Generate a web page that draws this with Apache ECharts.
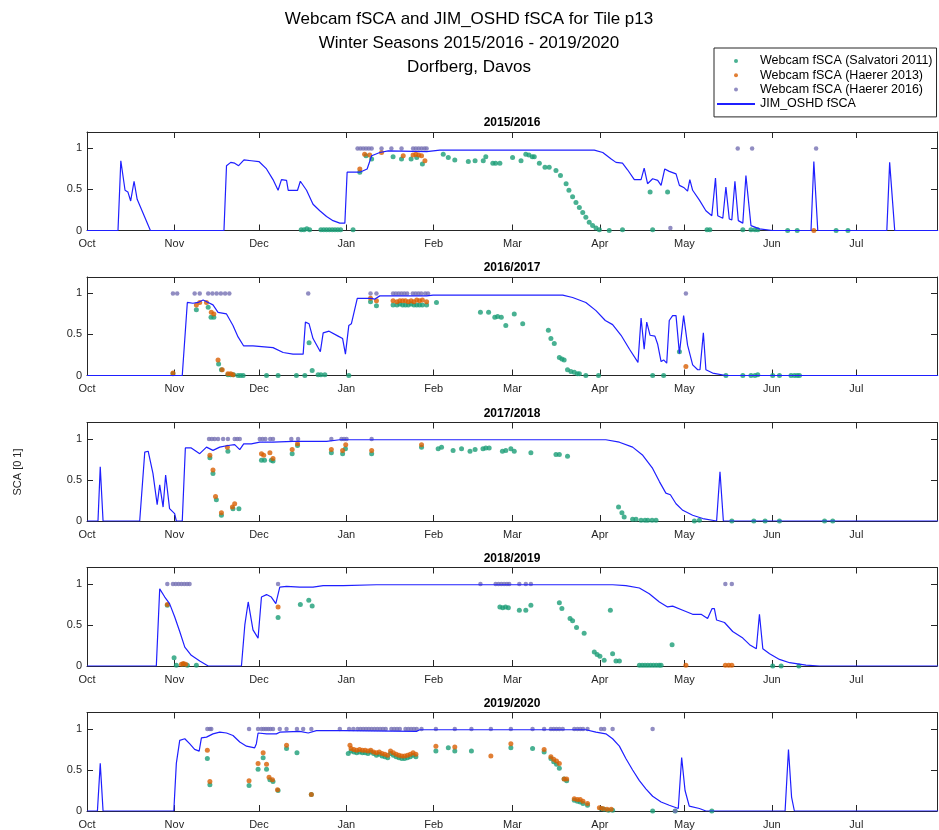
<!DOCTYPE html>
<html><head><meta charset="utf-8">
<script src="https://cdn.jsdelivr.net/npm/echarts@6/dist/echarts.min.js"></script>
<style>html,body{margin:0;padding:0;background:#fff}#c{width:939px;height:830px}</style>
</head><body><div id="c"></div>
<script>
// ---------- labels / ticks ----------
const seasons = ['2015/2016','2016/2017','2017/2018','2018/2019','2019/2020'];
const monthTicks = [0,31,61,92,123,151,182,212,243,273];   // day of season (Oct 1 = 0)
const monthLabels = ['Oct','Nov','Dec','Jan','Feb','Mar','Apr','May','Jun','Jul'];
const yTicks = [0,0.5,1];
const yTickLabels = ['0','0.5','1'];
const seriesNames = ['Webcam fSCA (Salvatori 2011)','Webcam fSCA (Haerer 2013)','Webcam fSCA (Haerer 2016)','JIM_OSHD fSCA'];
const titleLines = ['Webcam fSCA and JIM_OSHD fSCA for Tile p13','Winter Seasons 2015/2016 - 2019/2020','Dorfberg, Davos'];
const yLabel = 'SCA [0 1]';

// ---------- 2015/2016 ----------
const jim_1516 = [[0,0],[11,0],[12,0.85],[13.5,0.49],[14.5,0.47],[15.5,0.36],[16.7,0.6],[17.8,0.38],[22.5,0],[48.6,0],[49.5,0.79],[51,0.83],[52.4,0.82],[53.8,0.79],[55.7,0.86],[58.3,0.85],[61,0.84],[63.7,0.75],[66,0.62],[67.8,0.49],[69,0.62],[70.8,0.61],[71.4,0.49],[74.7,0.49],[75.7,0.6],[77.9,0.49],[80.2,0.32],[82.6,0.24],[85,0.17],[87.3,0.12],[89.7,0.09],[91.5,0.09],[92.3,0.71],[96.8,0.71],[99.4,0.75],[101,0.91],[103.9,0.95],[106.9,0.97],[120.5,0.96],[125.2,0.98],[180,0.98],[183,0.95],[186,0.87],[187.7,0.83],[190,0.82],[191.8,0.74],[194.2,0.62],[196.6,0.62],[197.7,0.76],[198.9,0.57],[200.7,0.63],[202.5,0.61],[203.7,0.55],[205,0.75],[206.6,0.72],[209,0.69],[210.2,0.55],[211.9,0.52],[213.1,0.48],[213.9,0.62],[214.9,0.49],[217.3,0.37],[219.6,0.24],[221.7,0.18],[223,0.64],[223.8,0.18],[225.6,0.15],[226.7,0.53],[227.9,0.14],[228.8,0.13],[229.9,0.6],[231.1,0.12],[232.7,0.09],[233.8,0.67],[235.6,0.06],[238.6,0.02],[243.3,0],[256.9,0],[257.9,0.84],[259.3,0],[283.8,0],[284.8,0.83],[286.6,0],[302,0]];
const salv_1516 = [[76,0.01],[77,0.01],[78,0.02],[79,0.01],[83,0.01],[84,0.01],[85,0.01],[86,0.01],[87,0.01],[88,0.01],[89,0.01],[90,0.01],[94.4,0.01],[96.8,0.71],[99,0.91],[101,0.87],[108.6,0.9],[111.6,0.87],[115,0.87],[117,0.89],[119,0.81],[126.4,0.93],[128.2,0.89],[130.5,0.86],[135.3,0.84],[137.7,0.85],[140.6,0.85],[141.5,0.9],[144,0.82],[145,0.82],[146.5,0.82],[151,0.89],[154,0.85],[155.7,0.93],[156.8,0.92],[158,0.9],[158.7,0.9],[160.5,0.82],[162.5,0.77],[164,0.77],[166.4,0.73],[168,0.67],[170,0.57],[171,0.49],[172.3,0.41],[173.5,0.34],[174.7,0.28],[175.9,0.22],[177,0.16],[178.2,0.1],[179.4,0.06],[180.6,0.03],[181.8,0.01],[185.3,0],[190,0.01],[199.8,0.47],[200.7,0.01],[206,0.47],[220,0.01],[221,0.01],[232.7,0.01],[235.6,0.01],[237,0.01],[238,0.01],[248.6,0],[252,0],[265.8,0],[270,0]];
const h13_1516 = [[96.8,0.75],[98.5,0.93],[100.3,0.92],[104.5,0.95],[112.2,0.91],[115.7,0.92],[116.7,0.93],[117.7,0.92],[118.7,0.91],[119.9,0.85],[257.9,0]];
const h16_1516 = [[96,1],[97,1],[98,1],[99,1],[100,1],[101,1],[104.5,1],[108,1],[111.6,1],[115.7,1],[116.7,1],[117.7,1],[118.7,1],[119.7,1],[120.5,1],[207,0.03],[230.9,1],[236,1],[258.7,1]];

// ---------- 2016/2017 ----------
const jim_1617 = [[0,0],[33.8,0],[35.6,0.89],[37.6,0.88],[39.4,0.89],[41.2,0.92],[43,0.89],[44.7,0.86],[46.5,0.77],[49.5,0.75],[51.8,0.61],[53.6,0.47],[55.6,0.36],[58.9,0.36],[66,0.34],[69.6,0.28],[73.1,0.26],[76.7,0.26],[77.5,0.65],[78.8,0.63],[80.2,0.45],[82.8,0.29],[83.8,0.52],[85.9,0.54],[89.1,0.48],[90.7,0.45],[91.7,0.26],[92.9,0.61],[93.8,0.63],[95.9,0.94],[100.9,0.94],[102,0.93],[103.9,0.97],[120.5,0.97],[122.8,0.98],[168.8,0.98],[172.3,0.95],[177,0.89],[180.6,0.79],[183.9,0.67],[186.5,0.62],[189.5,0.49],[192.5,0.32],[195.5,0.16],[196.6,0.7],[197.7,0.32],[198.6,0.65],[199.8,0.49],[201.5,0.48],[202.5,0.38],[203.7,0.17],[204.6,0.19],[205.7,0.15],[206.6,0.67],[207.8,0.73],[209,0.73],[210.2,0.27],[210.7,0.25],[211.7,0.73],[213.1,0.37],[214.9,0.13],[216.7,0.07],[217.5,0.07],[218.7,0.52],[219.6,0.07],[222,0.03],[226.7,0],[302,0]];
const salv_1617 = [[30.5,0.02],[38.8,0.8],[43,0.83],[44,0.71],[45,0.71],[46.7,0.14],[47.7,0.07],[50,0.01],[51,0.01],[52,0.01],[53.6,0],[54.5,0],[55.4,0],[63.7,0],[67.8,0],[74.3,0],[77.3,0],[78.8,0.4],[79.9,0.06],[82,0.01],[83,0.01],[84.4,0.01],[92.9,0],[100.6,0.9],[102.7,0.85],[108.6,0.86],[110,0.86],[111,0.87],[112,0.86],[113,0.86],[114,0.86],[115,0.87],[116,0.86],[117,0.86],[118,0.86],[119,0.86],[120.5,0.86],[124,0.89],[139.6,0.77],[142.5,0.77],[144.7,0.71],[145.7,0.72],[147,0.71],[148.6,0.61],[151.6,0.75],[154.6,0.63],[163.7,0.55],[164.6,0.45],[165.8,0.39],[167.6,0.22],[168.5,0.2],[169.3,0.19],[170.5,0.07],[171.7,0.05],[172.9,0.04],[174,0.02],[174.7,0.02],[177,0],[181.5,0],[200.7,0],[204.6,0],[210.2,0.29],[226.7,0],[232.7,0],[235.6,0],[237,0],[238,0.01],[243.3,0],[245.7,0],[249.8,0],[251,0],[252,0],[252.8,0]];
const h13_1617 = [[30.5,0.03],[38.8,0.86],[40,0.89],[42.4,0.89],[44.1,0.77],[45,0.75],[46.5,0.19],[48,0.07],[50,0.02],[51,0.02],[51.8,0.01],[100.6,0.94],[102.7,0.91],[108.6,0.91],[110,0.9],[111,0.91],[112,0.91],[113,0.91],[114,0.9],[115,0.91],[116,0.9],[117,0.92],[118,0.91],[119,0.92],[120.5,0.9],[212.5,0.11]];
const h16_1617 = [[30.5,1],[32,1],[38.2,1],[40,1],[43,1],[44.5,1],[46,1],[47.5,1],[49,1],[50.5,1],[78.5,1],[100.6,1],[102.7,1],[108.6,1],[109.6,1],[110.6,1],[111.6,1],[112.6,1],[113.6,1],[115.6,1],[116.6,1],[117.6,1],[118.6,1],[120,1],[121,1],[212.5,1]];

// ---------- 2017/2018 ----------
const jim_1718 = [[0,0],[3.9,0],[4.7,0.66],[5.7,0],[18.7,0],[20.5,0.84],[21.7,0.85],[23.4,0.58],[24.9,0.2],[25.8,0.44],[27,0.17],[27.9,0.56],[29.3,0.15],[31.1,0.09],[31.7,0],[33.8,0],[34.9,0.89],[37,0.89],[40,0.82],[42.4,0.9],[44.7,0.86],[47.1,0.9],[50,0.92],[52.4,0.93],[54.2,0.87],[55.6,0.94],[58.3,0.94],[61.3,0.96],[66,0.96],[73.1,0.97],[85,0.97],[89.7,0.99],[184.1,0.99],[188.9,0.96],[193.6,0.9],[197.2,0.8],[200.7,0.64],[203.1,0.48],[205.4,0.34],[207,0.32],[209,0.21],[211.4,0.13],[214.9,0.07],[218.5,0.03],[223.4,0],[224.6,0.6],[225.8,0],[302,0]];
const salv_1718 = [[43.6,0.77],[44.7,0.58],[45.9,0.26],[47.7,0.07],[50,0.85],[51.8,0.15],[53.9,0.15],[61.9,0.74],[63,0.74],[65.4,0.74],[66,0.73],[72.8,0.82],[74.7,0.92],[86.7,0.83],[90.7,0.82],[91.7,0.88],[101,0.82],[118.7,0.9],[124.6,0.88],[125.8,0.9],[129.9,0.86],[132.9,0.88],[135.9,0.85],[137.7,0.87],[140.5,0.88],[141.5,0.89],[142.7,0.89],[147.4,0.85],[148.6,0.86],[150.4,0.88],[151.6,0.85],[157.5,0.83],[166.4,0.81],[167.6,0.81],[170.5,0.79],[188.6,0.17],[189.8,0.1],[190.6,0.05],[193.6,0.02],[194.8,0.02],[196.6,0.01],[198,0.01],[199,0.01],[200.5,0.01],[201.9,0.01],[215.5,0],[217.3,0.01],[228.8,0],[236.6,0],[240.6,0],[245.7,0],[261.7,0],[264.6,0]];
const h13_1718 = [[43.6,0.8],[44.7,0.62],[45.6,0.3],[47.7,0.1],[49.8,0.9],[51.6,0.17],[52.4,0.21],[61.9,0.82],[62.7,0.8],[64.9,0.83],[66,0.76],[72.8,0.87],[74.7,0.94],[86.7,0.87],[90.7,0.86],[91.8,0.93],[101,0.86],[118.7,0.93]];
const h16_1718 = [[43.3,1],[44.3,1],[45.3,1],[46.5,1],[48.3,1],[50,1],[52.4,1],[53.3,1],[54.2,1],[61.3,1],[62.3,1],[63.3,1],[65,1],[66,1],[72.5,1],[74.9,1],[86.7,1],[90.3,1],[91.2,1],[92.1,1],[101,1]];

// ---------- 2018/2019 ----------
const jim_1819 = [[0,0],[24.6,0],[25.8,0.94],[27.6,0.84],[29.3,0.76],[31.1,0.6],[32.9,0.42],[34.7,0.23],[37,0.13],[40,0.06],[43,0],[54.8,0],[56,0.5],[57.2,0.78],[57.8,0.76],[58.9,0.44],[60.7,0.34],[61.9,0.84],[63.7,0.87],[65.4,0.84],[67,0.76],[68.4,0.96],[70.8,0.97],[75.5,0.96],[80.2,0.96],[83.8,0.98],[90.9,0.98],[102.7,0.99],[186.5,0.99],[191.2,0.98],[196,0.95],[199.5,0.88],[203.1,0.78],[206,0.72],[207.8,0.73],[211.4,0.68],[214.9,0.63],[217.9,0.63],[220.2,0.58],[221.8,0.7],[222.6,0.7],[223.4,0.56],[226.2,0.53],[229.1,0.42],[232.7,0.34],[235.1,0.26],[237.5,0.21],[238.6,0.63],[239.8,0.21],[242.2,0.15],[245.7,0.08],[249.3,0.04],[255.1,0.01],[259.9,0],[302,0]];
const salv_1819 = [[28.5,0.74],[30.9,0.1],[31.7,0.01],[34.1,0.02],[35.6,0.01],[38.8,0.01],[67.8,0.59],[75.7,0.75],[78.7,0.8],[79.9,0.73],[146.5,0.72],[147.5,0.71],[148.5,0.72],[149.5,0.71],[153.4,0.68],[155.7,0.68],[157.5,0.74],[167.6,0.77],[168.5,0.7],[171.4,0.58],[172.3,0.55],[173.7,0.47],[176.4,0.4],[180,0.17],[181,0.14],[182,0.12],[183.5,0.07],[185.7,0.68],[186.5,0.15],[187.7,0.06],[188.9,0.06],[196,0.01],[197,0.01],[198,0.01],[199,0.01],[200,0.01],[201,0.01],[202,0.01],[203,0.01],[203.7,0.01],[207.6,0.26],[243.3,0],[246.3,0],[252.6,0]];
const h13_1819 = [[28.5,0.75],[33.5,0.02],[34.2,0.03],[35,0.02],[67.8,0.72],[212.5,0.01],[226.5,0.01],[227.7,0.01],[228.8,0.01]];
const h16_1819 = [[28.5,1],[30.5,1],[31.5,1],[32.5,1],[33.5,1],[34.5,1],[35.5,1],[36.4,1],[67.8,1],[139.6,1],[145,1],[146,1],[147,1],[148,1],[149,1],[149.8,1],[153.4,1],[155.7,1],[157.5,1],[226.5,1],[228.8,1]];

// ---------- 2019/2020 ----------
const jim_1920 = [[0,0],[3.7,0],[4.7,0.58],[5.7,0],[30.8,0],[31.7,0.58],[32.9,0.86],[34.7,0.88],[36.4,0.82],[38.2,0.75],[39.8,0.73],[40.6,0.89],[42.4,0.9],[44.7,0.94],[47.1,0.96],[49.5,0.95],[51.8,0.92],[54.2,0.84],[56.6,0.79],[59.5,0.77],[60.1,0.82],[60.7,0.95],[63.7,0.94],[67.2,0.94],[68.4,0.96],[75.5,0.97],[78.5,0.95],[81.4,0.98],[90.9,0.98],[116.9,0.97],[118.1,0.99],[177,0.99],[180.6,0.96],[184.1,0.94],[186.5,0.88],[188.9,0.79],[191.2,0.64],[193.6,0.5],[196,0.37],[198.3,0.27],[200.7,0.18],[203.7,0.11],[206.6,0.07],[209.8,0.03],[211,0.65],[212.2,0.25],[213.7,0.06],[217.3,0.03],[219.6,0],[247.7,0],[248.9,0.75],[250,0.17],[251,0],[302,0]];
const salv_1920 = [[42.7,0.64],[43.6,0.32],[57.5,0.31],[60.7,0.51],[62.5,0.65],[63.7,0.51],[64.9,0.38],[66,0.36],[67.8,0.25],[70.8,0.76],[74.5,0.71],[79.6,0.2],[92.7,0.7],[93.7,0.73],[94.7,0.72],[95.7,0.71],[96.7,0.72],[97.7,0.71],[98.7,0.71],[99.7,0.7],[100.7,0.72],[101.7,0.7],[102.7,0.68],[103.7,0.69],[104.7,0.67],[105.7,0.66],[106.7,0.65],[107.7,0.7],[108.7,0.68],[109.7,0.66],[110.7,0.65],[111.7,0.64],[112.7,0.64],[113.7,0.65],[114.7,0.66],[115.7,0.68],[116.7,0.66],[123.8,0.73],[128.2,0.77],[130.5,0.73],[136.4,0.73],[150.4,0.77],[158.1,0.76],[162.2,0.72],[164.6,0.64],[165.6,0.6],[166.6,0.57],[167.6,0.52],[169.3,0.39],[170.2,0.37],[172.9,0.13],[174,0.12],[175,0.11],[176,0.09],[177.6,0.07],[182.4,0.03],[183.5,0.02],[185,0.01],[186.5,0.01],[200.7,0],[208.7,0],[221.7,0]];
const h13_1920 = [[42.7,0.74],[43.6,0.36],[57.5,0.37],[60.7,0.58],[62.5,0.71],[63.7,0.57],[64.6,0.41],[65.8,0.38],[67.6,0.26],[70.8,0.8],[79.6,0.2],[93.3,0.8],[93.7,0.76],[94.7,0.75],[95.7,0.74],[96.7,0.75],[97.7,0.74],[98.7,0.74],[99.7,0.73],[100.7,0.74],[101.7,0.72],[102.7,0.71],[103.7,0.72],[104.7,0.7],[105.7,0.69],[106.7,0.68],[107.7,0.73],[108.7,0.71],[109.7,0.69],[110.7,0.68],[111.7,0.67],[112.7,0.67],[113.7,0.68],[114.7,0.69],[115.7,0.71],[116.7,0.69],[123.8,0.79],[130.5,0.78],[143.3,0.67],[150.4,0.82],[162.2,0.75],[164.6,0.66],[165.6,0.63],[166.6,0.61],[167.6,0.58],[169.3,0.39],[170.2,0.39],[172.9,0.15],[174,0.14],[175,0.14],[176,0.12],[177.6,0.09],[181.8,0.04],[183,0.03],[184.5,0.02],[186,0.02]];
const h16_1920 = [[42.7,1],[43.6,1],[44.1,1],[57.5,1],[60.7,1],[61.9,1],[62.7,1],[63.5,1],[64.3,1],[65.1,1],[66,1],[68.4,1],[70.8,1],[74.5,1],[76.7,1],[79.6,1],[89.7,1],[93,1],[94.5,1],[96,1],[97,1],[98,1],[99,1],[100,1],[101,1],[102,1],[103,1],[104,1],[105,1],[106,1],[108,1],[109,1],[110,1],[111,1],[113,1],[114,1],[115,1],[116,1],[117,1],[118.7,1],[123.8,1],[130.5,1],[136.4,1],[143.3,1],[150.4,1],[158.1,1],[162.2,1],[164.6,1],[165.6,1],[166.6,1],[167.6,1],[168.8,1],[172.9,1],[174,1],[175,1],[176,1],[177.6,1],[182.4,1],[183.5,1],[186.5,1],[200.7,1],[208.7,0]];

const jimAll = [jim_1516, jim_1617, jim_1718, jim_1819, jim_1920];
const salvAll = [salv_1516, salv_1617, salv_1718, salv_1819, salv_1920];
const h13All = [h13_1516, h13_1617, h13_1718, h13_1819, h13_1920];
const h16All = [h16_1516, h16_1617, h16_1718, h16_1819, h16_1920];

// ---------- layout / style ----------
const FONT = '"Liberation Sans", Arial, sans-serif';
const AX = '#262626';
const colors = ['#1b9e77', '#d95f02', '#7570b3', '#1f1fff'];
const gridTops = [132, 277, 422.5, 567.5, 712.5];
const gridH = 98.5, gridL = 87, gridR = 2;
const xMax = 301.6;

const grids = [], xAxes = [], yAxes = [], series = [], graphics = [];
gridTops.forEach((top, i) => {
  grids.push({ left: gridL, right: gridR, top: top, height: gridH, containLabel: false });
  const xBase = {
    type: 'value', gridIndex: i, min: 0, max: xMax,
    axisLine: { show: true, onZero: false, lineStyle: { color: AX, width: 1 } },
    axisTick: { show: true, inside: true, length: 6, customValues: monthTicks, lineStyle: { color: AX, width: 1 } },
    splitLine: { show: false }
  };
  xAxes.push(Object.assign({}, xBase, { position: 'bottom',
    axisLabel: { show: true, customValues: monthTicks, formatter: v => monthLabels[monthTicks.indexOf(v)],
      fontSize: 11, color: AX, fontFamily: FONT, margin: 8 } }));
  xAxes.push(Object.assign({}, xBase, { position: 'top', axisLabel: { show: false } }));
  const yBase = {
    type: 'value', gridIndex: i, min: 0, max: 1.2,
    axisLine: { show: true, onZero: false, lineStyle: { color: AX, width: 1 } },
    axisTick: { show: true, inside: true, length: 6, customValues: yTicks, lineStyle: { color: AX, width: 1 } },
    splitLine: { show: false }
  };
  yAxes.push(Object.assign({}, yBase, { position: 'left',
    axisLabel: { show: true, customValues: yTicks, formatter: v => yTickLabels[yTicks.indexOf(v)],
      fontSize: 11, color: AX, fontFamily: FONT, margin: 5 } }));
  yAxes.push(Object.assign({}, yBase, { position: 'right', axisLabel: { show: false } }));

  const base = { xAxisIndex: 2 * i, yAxisIndex: 2 * i };
  series.push(Object.assign({ name: seriesNames[0], type: 'scatter', data: salvAll[i], symbol: 'circle', symbolSize: 5,
    itemStyle: { color: colors[0] }, z: 2 }, base));
  series.push(Object.assign({ name: seriesNames[1], type: 'scatter', data: h13All[i], symbol: 'circle', symbolSize: 5,
    itemStyle: { color: colors[1] }, z: 3 }, base));
  series.push(Object.assign({ name: seriesNames[2], type: 'scatter', data: h16All[i], symbol: 'circle', symbolSize: 4.5,
    itemStyle: { color: colors[2] }, z: 4 }, base));
  series.push(Object.assign({ name: seriesNames[3], type: 'line', data: jimAll[i], symbol: 'none', showSymbol: false,
    lineStyle: { color: colors[3], width: 1.2 }, itemStyle: { color: colors[3] }, z: 5 }, base));

  graphics.push({ type: 'text', x: gridL + (939 - gridL - gridR) / 2, y: top - 9,
    style: { text: seasons[i], font: 'bold 12px ' + FONT, fill: '#000', textAlign: 'center', textVerticalAlign: 'middle' } });
});

titleLines.forEach((t, k) => {
  graphics.push({ type: 'text', x: 469, y: 19 + 24 * k,
    style: { text: t, font: '17px ' + FONT, fill: '#000', textAlign: 'center', textVerticalAlign: 'middle' } });
});
graphics.push({ type: 'text', x: 18, y: 472, rotation: Math.PI / 2,
  style: { text: yLabel, font: '11px ' + FONT, fill: AX, textAlign: 'center', textVerticalAlign: 'middle' } });

const chart = echarts.init(document.getElementById('c'), null, { renderer: 'canvas' });
chart.setOption({
  animation: false,
  backgroundColor: '#fff',
  grid: grids, xAxis: xAxes, yAxis: yAxes, series: series,
  legend: {
    data: [seriesNames[0], seriesNames[1], seriesNames[2], { name: seriesNames[3], itemStyle: { opacity: 0 } }],
    orient: 'vertical', left: 714, top: 48,
    padding: [6, 4, 6, 2], itemGap: 0.3, itemWidth: 38, itemHeight: 4, itemSymbolKeepAspect: true,
    backgroundColor: '#fff', borderColor: AX, borderWidth: 1, borderRadius: 0,
    textStyle: { fontSize: 12.5, color: '#000', fontFamily: FONT, lineHeight: 14 },
    selectedMode: false
  },
  graphic: graphics
});
</script>
</body></html>
